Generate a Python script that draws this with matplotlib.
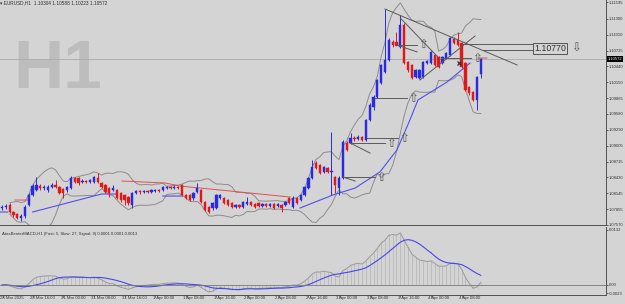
import matplotlib.pyplot as plt
import numpy as np
import pandas as pd

# EURUSD H1 bars, 28 Mar 2025 08:00 .. 4 Apr 2025 13:00 (weekend skipped)
opens = [1.07875, 1.07893, 1.0793, 1.07803, 1.07767, 1.07694, 1.0773, 1.0793, 1.08111, 1.08201,
         1.08273, 1.08237, 1.08201, 1.08255, 1.08292, 1.08255, 1.08219, 1.08201, 1.08237, 1.08418,
         1.08418, 1.08346, 1.08364, 1.08346, 1.08346, 1.08418, 1.08328, 1.08292, 1.08237, 1.08201,
         1.08201, 1.08147, 1.08111, 1.08074, 1.0793, 1.08147, 1.08183, 1.08165, 1.08183, 1.08165,
         1.08183, 1.08201, 1.08201, 1.08237, 1.08255, 1.08237, 1.08255, 1.08292, 1.08111, 1.08111,
         1.08056, 1.08165, 1.08201, 1.07984, 1.07893, 1.07875, 1.07875, 1.08056, 1.08056, 1.0802,
         1.07966, 1.07893, 1.0793, 1.07893, 1.07948, 1.07984, 1.07948, 1.07966, 1.07911, 1.07948,
         1.07911, 1.07948, 1.07911, 1.0793, 1.0793, 1.08056, 1.07893, 1.08056, 1.0802, 1.08111,
         1.08237, 1.08418, 1.0869, 1.08654, 1.08527, 1.08599, 1.08527, 1.08436, 1.08237, 1.08418,
         1.09052, 1.09052, 1.09142, 1.09124, 1.0916, 1.09106, 1.09468, 1.09703, 1.09884, 1.10138,
         1.10337, 1.10554, 1.1088, 1.1088, 1.10789, 1.11188, 1.10518, 1.10464, 1.10246, 1.10228,
         1.10246, 1.105, 1.105, 1.10645, 1.10608, 1.105, 1.1059, 1.10645, 1.10934, 1.10916,
         1.10862, 1.105, 1.10065, 1.09975, 1.0983, 1.10304]
highs = [1.0793, 1.07948, 1.07966, 1.07821, 1.07785, 1.07767, 1.0793, 1.08147, 1.0831, 1.08436,
         1.0831, 1.08292, 1.08292, 1.08328, 1.08382, 1.08273, 1.08237, 1.08273, 1.08454, 1.08436,
         1.08436, 1.084, 1.08382, 1.084, 1.08454, 1.08509, 1.08346, 1.0831, 1.08255, 1.08292,
         1.08219, 1.08165, 1.08129, 1.08092, 1.08165, 1.08201, 1.08201, 1.08201, 1.08201, 1.08219,
         1.08219, 1.08219, 1.08273, 1.08273, 1.08273, 1.08292, 1.08273, 1.0831, 1.08129, 1.08129,
         1.08165, 1.08328, 1.08219, 1.08002, 1.07911, 1.07984, 1.08129, 1.08129, 1.08074, 1.08038,
         1.07984, 1.07948, 1.07948, 1.08002, 1.08074, 1.08002, 1.07966, 1.07984, 1.07966, 1.07966,
         1.07966, 1.07966, 1.07966, 1.07948, 1.08002, 1.08074, 1.08092, 1.08074, 1.08129, 1.08273,
         1.08436, 1.08744, 1.08726, 1.08672, 1.08635, 1.08617, 1.0925, 1.08454, 1.08454, 1.09106,
         1.09088, 1.09233, 1.09178, 1.09197, 1.09178, 1.09486, 1.09776, 1.0992, 1.1021, 1.10482,
         1.11477, 1.10952, 1.10916, 1.11061, 1.11369, 1.11224, 1.10536, 1.10482, 1.10391, 1.10391,
         1.10536, 1.10554, 1.10717, 1.10663, 1.10626, 1.10626, 1.10699, 1.1097, 1.1097, 1.11061,
         1.1088, 1.10518, 1.10083, 1.09993, 1.10264, 1.10588]
lows = [1.07839, 1.07857, 1.07785, 1.07712, 1.07676, 1.0764, 1.07694, 1.07911, 1.08092, 1.08183,
        1.08201, 1.08201, 1.08165, 1.08237, 1.08237, 1.08129, 1.08056, 1.08165, 1.08219, 1.08328,
        1.08292, 1.08328, 1.08328, 1.08328, 1.08328, 1.08328, 1.08237, 1.08147, 1.08074, 1.08183,
        1.08038, 1.07984, 1.0793, 1.0793, 1.07875, 1.08129, 1.08129, 1.08147, 1.08147, 1.08147,
        1.08165, 1.08165, 1.08183, 1.08219, 1.08219, 1.08219, 1.08219, 1.08092, 1.08038, 1.08002,
        1.0802, 1.08147, 1.07966, 1.07821, 1.07785, 1.07839, 1.07857, 1.08038, 1.07948, 1.07911,
        1.07875, 1.07875, 1.07875, 1.07875, 1.0793, 1.07911, 1.07875, 1.07893, 1.07893, 1.07893,
        1.07893, 1.07857, 1.07893, 1.07803, 1.07911, 1.07948, 1.07875, 1.07948, 1.08002, 1.08092,
        1.08219, 1.084, 1.08581, 1.08491, 1.08509, 1.08509, 1.08111, 1.08147, 1.08111, 1.084,
        1.08907, 1.09034, 1.09088, 1.09106, 1.09088, 1.09088, 1.0945, 1.09649, 1.09866, 1.1012,
        1.10319, 1.10536, 1.10789, 1.10807, 1.10771, 1.10482, 1.10337, 1.1021, 1.10228, 1.1021,
        1.10228, 1.10482, 1.10482, 1.10445, 1.10409, 1.10482, 1.10572, 1.10626, 1.10844, 1.10807,
        1.10409, 1.09993, 1.0992, 1.09812, 1.09649, 1.10223]
closes = [1.07893, 1.07911, 1.07803, 1.07749, 1.07694, 1.0773, 1.07893, 1.08111, 1.08273, 1.08292,
          1.08237, 1.08255, 1.08255, 1.08292, 1.08255, 1.08147, 1.08147, 1.08255, 1.08418, 1.08346,
          1.08328, 1.08364, 1.08346, 1.08382, 1.08436, 1.08346, 1.08255, 1.08165, 1.08147, 1.08237,
          1.08056, 1.0802, 1.0802, 1.07966, 1.08147, 1.08183, 1.08165, 1.08183, 1.08165, 1.08201,
          1.08201, 1.08183, 1.08255, 1.08255, 1.08237, 1.08255, 1.08237, 1.08111, 1.08056, 1.0802,
          1.08147, 1.08237, 1.07984, 1.07839, 1.07803, 1.07966, 1.08111, 1.08111, 1.07966, 1.0793,
          1.07893, 1.0793, 1.07893, 1.07984, 1.07984, 1.0793, 1.07893, 1.07911, 1.07948, 1.07911,
          1.07948, 1.07875, 1.07948, 1.07875, 1.07984, 1.07966, 1.08056, 1.07966, 1.08111, 1.08255,
          1.08418, 1.08617, 1.08599, 1.08509, 1.08617, 1.08527, 1.08545, 1.08292, 1.08418, 1.0907,
          1.08925, 1.09142, 1.09124, 1.0916, 1.09106, 1.09468, 1.0974, 1.09884, 1.10192, 1.10464,
          1.10554, 1.10916, 1.10826, 1.10826, 1.11188, 1.105, 1.10373, 1.10228, 1.10373, 1.10373,
          1.10518, 1.10536, 1.10699, 1.10464, 1.10427, 1.10608, 1.10681, 1.10952, 1.10862, 1.10826,
          1.10427, 1.10011, 1.09957, 1.0983, 1.10246, 1.10572]

# moving average lines as they show on the chart (bar index, price); None = gap
blue_ma_x = [-0.5, 1.5, None, 8, 17, 26, 30, None, 42, 47, None,
             77.8, 86.4, 92.2, 98.7, 103.1, 106.5, 108.6, 116.2, 122.2]
blue_ma_y = [1.07803, 1.07803, None, 1.07803, 1.07966, 1.08129, 1.08129, None, 1.08092, 1.08092, None,
             1.07875, 1.08111, 1.08237, 1.0853, 1.08925, 1.09468, 1.0983, 1.10156, 1.105]
red_ma_x = [3.4, 7.3, None, 31.3, 42.6, 46.5, 60, 75.2, None, 124.3, 126.6]
red_ma_y = [1.0802, 1.0802, None, 1.08364, 1.08328, 1.08273, 1.0818, 1.08074, None, 1.1059, 1.1059]

price_ticks = [1.11595, 1.11300, 1.11010, 1.10725, 1.10440, 1.10150, 1.09865, 1.09580,
               1.09290, 1.09005, 1.08715, 1.08430, 1.08145, 1.07855, 1.07570]
time_pos = [0.3, 8, 16, 24, 32, 40, 48, 56, 64, 72, 80, 88, 96, 104, 112, 120]
time_labels = ["28 Mar 2025", "28 Mar 16:00", "31 Mar 00:00", "31 Mar 08:00", "31 Mar 16:00",
               "1 Apr 00:00", "1 Apr 08:00", "1 Apr 16:00", "2 Apr 00:00", "2 Apr 08:00",
               "2 Apr 16:00", "3 Apr 00:00", "3 Apr 08:00", "3 Apr 16:00", "4 Apr 00:00",
               "4 Apr 08:00"]

# drawn objects: trend lines ((x0, p0), (x1, p1)) and arrow levels (x0, x1, price)
trend_lines = [((100, 1.11477), (134.5, 1.10464)),
               ((104, 1.11314), (113.8, 1.10608)),
               ((109.1, 1.10192), (123.5, 1.10988)),
               ((103.1, 1.10826), (108.4, 1.10699)),
               ((89.0, 1.08436), (92.2, 1.08364)),
               ((90.9, 1.09052), (96.1, 1.08870))]
arrow_levels = [(102.6, 108.4, 1.10826), (97.4, 105.7, 1.09866), (95.3, 103.4, 1.09142),
                (90.9, 100.0, 1.09052), (89.6, 97.4, 1.08436), (114.5, 122.5, 1.10590)]
level_1077 = 1.10770

macd_fast, macd_slow, macd_signal = 5, 27, 9

BG = '#d4d4d4'
BULL = '#2a2ae0'
BEAR = '#e01818'
TXT = '#303030'
plt.rcParams['font.family'] = ['Liberation Sans', 'DejaVu Sans']

fig = plt.figure(figsize=(6.25, 3.04), dpi=100, facecolor=BG)
W, H = 625.0, 304.0
ax = fig.add_axes([0, 1 - 225 / H, 606 / W, 225 / H], facecolor=BG)
ax2 = fig.add_axes([0, 1 - 295 / H, 606 / W, 68 / H], facecolor=BG)

x = np.arange(len(closes))
o = np.array(opens)
c = np.array(closes)
hi = np.array(highs)
lo = np.array(lows)
up = c >= o

# bollinger bands from the closes
cs = pd.Series(c)
mid = cs.rolling(10, min_periods=3).mean()
sd = cs.rolling(10, min_periods=3).std(ddof=0)
ax.plot(x, mid + 2.2 * sd, color='#8c8c8c', lw=0.7, zorder=2)
ax.plot(x, mid - 2.2 * sd, color='#8c8c8c', lw=0.7, zorder=2)

bx = [np.nan if v is None else v for v in blue_ma_x]
by = [np.nan if v is None else v for v in blue_ma_y]
ax.plot(bx, by, color='#4f4ff0', lw=0.8, zorder=2)
rx = [np.nan if v is None else v for v in red_ma_x]
ry = [np.nan if v is None else v for v in red_ma_y]
ax.plot(rx, ry, color='#e05050', lw=0.7, zorder=2)

# candles
cols = np.where(up, BULL, BEAR)
ax.vlines(x, lo, hi, colors=cols, lw=0.7, zorder=3)
ax.bar(x, np.maximum(np.abs(c - o), 0.00004), bottom=np.minimum(o, c), width=0.6,
       color=cols, edgecolor=cols, lw=0.3, zorder=4)

# bid line
ax.axhline(closes[-1], color='#ababab', lw=0.6, zorder=1)

for (x0, p0), (x1, p1) in trend_lines:
    ax.plot([x0, x1], [p0, p1], color='#5a5a5a', lw=0.7, zorder=5)
for x0, x1, p in arrow_levels:
    ax.plot([x0, x1], [p, p], color='#5a5a5a', lw=0.7, zorder=5)
    ax.text(x1 + 0.3, p, '\u21e7', fontsize=8.5, color='#555555', ha='left', va='center',
            family='DejaVu Sans', zorder=6)
ax.plot([120.4, 138.5], [1.10844, 1.10844], color='#5a5a5a', lw=0.7, zorder=5)
ax.plot([125.6, 138.5], [1.10735, 1.10735], color='#5a5a5a', lw=0.7, zorder=5)
ax.text(139, level_1077, '%.5f' % level_1077, fontsize=6.3, color=TXT, ha='left', va='center',
        bbox=dict(boxstyle='square,pad=0.12', fc=BG, ec='#404040', lw=0.6), zorder=6)
ax.text(148.6, level_1077, '\u21e9', fontsize=8.5, color='#555555', ha='left', va='center',
        family='DejaVu Sans', zorder=6)
ax.plot([119.3], [1.105], marker='x', color=TXT, ms=3, mew=0.9, zorder=6)

ax.text(0.095, 0.69, 'H1', transform=ax.transAxes, fontsize=50, fontweight='bold',
        color='#bdbdbd', ha='center', va='center', zorder=0)
ax.text(0.0, 1.0, '\u25be EURUSD,H1  1.10304 1.10588 1.10223 1.10572', transform=ax.transAxes,
        fontsize=3.4, color=TXT, ha='left', va='top', zorder=7)

ax.set_xlim(-0.52, 157.7)
ax.set_ylim(1.07568, 1.1164)
ax.set_xticks([])
ax.yaxis.tick_right()
ax.set_yticks(price_ticks)
ax.set_yticklabels(['%.5f' % p for p in price_ticks])
ax.tick_params(axis='y', length=1.5, width=0.5, pad=0.8, labelsize=3.0, colors=TXT)
for s in ['top', 'left']:
    ax.spines[s].set_visible(False)
for s in ['right', 'bottom']:
    ax.spines[s].set_color('#505050')
    ax.spines[s].set_linewidth(0.7)
ax.text(1.003, closes[-1], '%.5f' % closes[-1], transform=ax.get_yaxis_transform(),
        fontsize=3.0, color='white', ha='left', va='center',
        bbox=dict(boxstyle='square,pad=0.15', fc='black', ec='black', lw=0), zorder=8,
        clip_on=False)

# macd panel
ema_f = cs.ewm(span=macd_fast, adjust=False).mean()
ema_s = cs.ewm(span=macd_slow, adjust=False).mean()
macd = ema_f - ema_s
sig = macd.rolling(macd_signal, min_periods=1).mean()
ax2.vlines(x, 0, macd, colors='#b2b2b2', lw=0.5)
ax2.plot(x, macd, color='#9a9a9a', lw=0.7)
ax2.plot(x, sig, color='#4646f0', lw=0.8)
ax2.axhline(0, color='#7a7a7a', lw=0.6)
ax2.set_xlim(-0.52, 157.7)
ax2.set_ylim(-0.0024, 0.0139)
ax2.set_xticks([])
ax2.yaxis.tick_right()
ax2.set_yticks([0.0132, 0.0, -0.0020])
ax2.set_yticklabels(['0.0132', '0.00', '-0.0023'])
ax2.tick_params(axis='y', length=1.5, width=0.5, pad=0.8, labelsize=3.0, colors=TXT)
for s in ['top', 'left']:
    ax2.spines[s].set_visible(False)
for s in ['right', 'bottom']:
    ax2.spines[s].set_color('#505050')
    ax2.spines[s].set_linewidth(0.7)
ax2.text(0.003, 0.93, 'AtasBenterMACD-H1 (Fast: 5, Slow: 27, Signal: 9) 0.0001 0.0001 0.0013',
         transform=ax2.transAxes, fontsize=3.1, color=TXT, ha='left', va='top')
for p, lab in zip(time_pos, time_labels):
    ax2.text(p - 0.7, -0.0027, lab, fontsize=3.1, color=TXT, ha='left', va='top',
             clip_on=False)
    ax2.plot([p, p], [-0.0024, -0.0029], color='#505050', lw=0.5, clip_on=False)

fig.savefig('out.png', dpi=100, facecolor=BG)
